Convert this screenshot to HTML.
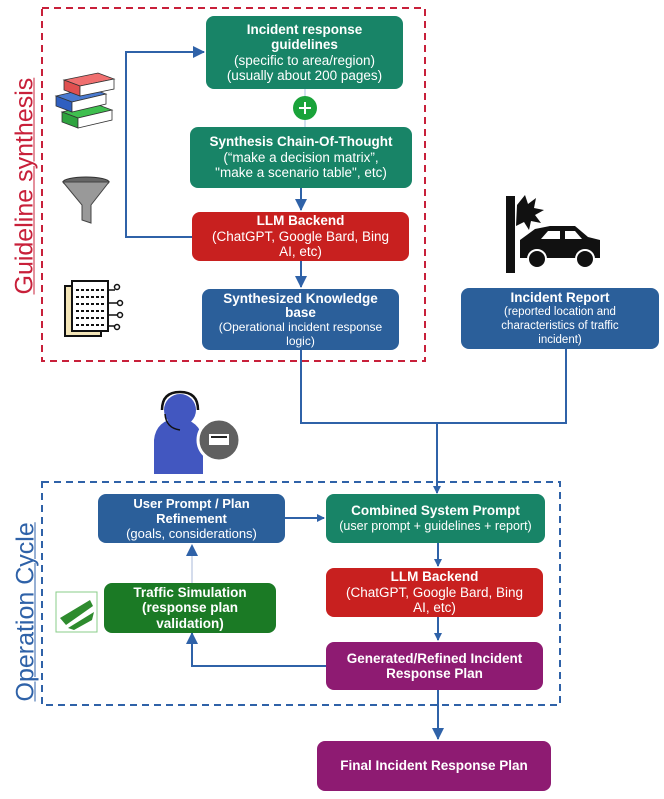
<!DOCTYPE html>
<html><head><meta charset="utf-8"><style>
body{margin:0;width:664px;height:799px;background:#fff;position:relative;overflow:hidden;font-family:"Liberation Sans",sans-serif}
.b{position:absolute;border-radius:8px;color:#fff;text-align:center;display:flex;flex-direction:column;justify-content:center;font-size:13.5px;line-height:15.5px;box-sizing:border-box;padding:0 12px}
.b b{font-size:13.5px}
.g{background:#188467}.r{background:#c8201f}.u{background:#2b5f9a}.p{background:#8e1b72}.d{background:#1b7a25}
.v{position:absolute;white-space:nowrap;transform:rotate(-90deg);transform-origin:center;text-decoration:underline;text-decoration-thickness:1px}
</style></head><body>
<svg width="664" height="799" style="position:absolute;left:0;top:0">
<defs><marker id="a" markerWidth="8" markerHeight="8" refX="7" refY="4" orient="auto" markerUnits="userSpaceOnUse"><path d="M0,0L8,4L0,8z" fill="#2f62a8"/></marker>
<marker id="a2" markerWidth="12" markerHeight="12" refX="11" refY="6" orient="auto" markerUnits="userSpaceOnUse"><path d="M0,0L12,6L0,12z" fill="#2f62a8"/></marker></defs>
<rect x="42" y="8" width="383" height="353" fill="none" stroke="#c8203a" stroke-width="2" stroke-dasharray="7,5"/>
<rect x="42" y="482" width="518" height="223" fill="none" stroke="#2f62a8" stroke-width="2" stroke-dasharray="7,5"/>
<g stroke="#2f62a8" stroke-width="2" fill="none">
<path d="M192,237H126V52H204" marker-end="url(#a2)"/>
<path d="M301,188V210" marker-end="url(#a2)"/>
<path d="M301,261V287" marker-end="url(#a2)"/>
<path d="M301,350V423H566V349"/>
<path d="M437,423V493" marker-end="url(#a)"/>
<path d="M285,518H324" marker-end="url(#a)"/>
<path d="M438,543V566" marker-end="url(#a)"/>
<path d="M438,617V640" marker-end="url(#a)"/>
<path d="M326,666H192V633" marker-end="url(#a2)"/>
<path d="M438,690V739" marker-end="url(#a2)"/>
</g>
<path d="M192,583V555" stroke="#a8b8d8" stroke-width="1" fill="none"/>
<path d="M186,556L192,544L198,556z" fill="#2f62a8"/>
<line x1="305" y1="89" x2="305" y2="127" stroke="#a8c0e0"/>
<circle cx="305" cy="108" r="12" fill="#1aa33a"/>
<path d="M299,108H311M305,102V114" stroke="#fff" stroke-width="2"/>
<g stroke="#333" stroke-width="0.8">
<path d="M62,112L96,104L112,110L78,118z" fill="#3fbf4f"/><path d="M62,112V122L78,128V118z" fill="#2fa33f"/><path d="M78,118L112,110V120L78,128z" fill="#fff"/>
<path d="M56,96L90,88L106,94L72,102z" fill="#4a7ad0"/><path d="M56,96V106L72,112V102z" fill="#2f5fc0"/><path d="M72,102L106,94V104L72,112z" fill="#fff"/>
<path d="M64,80L98,73L114,79L80,86z" fill="#f07070"/><path d="M64,80V90L80,96V86z" fill="#e05050"/><path d="M80,86L114,79V89L80,96z" fill="#fff"/>
</g>
<ellipse cx="86" cy="182" rx="23" ry="5" fill="#666" stroke="#333"/>
<path d="M63,182L82,205V220L91,223V205L109,182z" fill="#999" stroke="#444"/>
<rect x="65" y="286" width="36" height="50" fill="#f3e5b8" stroke="#111" stroke-width="2"/>
<rect x="72" y="281" width="36" height="50" fill="#fff" stroke="#111" stroke-width="2"/>
<g stroke="#111" stroke-width="2" stroke-dasharray="3,2"><path d="M76,290H104M76,297H104M76,304H104M76,311H104M76,318H104M76,325H104"/></g>
<g stroke="#111" stroke-width="1.5" fill="#fff"><path d="M108,290H115M108,303H118M108,315H118M108,326H115"/><circle cx="117" cy="287" r="2.5"/><circle cx="120" cy="303" r="2.5"/><circle cx="120" cy="315" r="2.5"/><circle cx="117" cy="327" r="2.5"/></g>
<rect x="506" y="196" width="9" height="77" fill="#111"/>
<path d="M517,205l8,-10 3,9 8,-6 -2,10 10,2 -9,5 6,8 -10,-2 -2,9 -5,-8 -8,4z" fill="#111"/>
<path d="M520,240L535,229L550,226L575,226L588,237L600,240V258H520z" fill="#111"/>
<path d="M548,231H560V239H541zM565,231H575L582,239H565z" fill="#fff"/>
<circle cx="537" cy="259" r="9" fill="#111" stroke="#fff" stroke-width="2"/><circle cx="585" cy="259" r="9" fill="#111" stroke="#fff" stroke-width="2"/>
<path d="M154,474V440Q156,420 178,418Q200,420 203,440V474z" fill="#4257c0"/>
<circle cx="180" cy="410" r="16" fill="#4257c0"/>
<path d="M162,410Q162,392 180,392Q198,392 198,410" stroke="#111" stroke-width="2.5" fill="none"/>
<path d="M165,414Q166,428 180,430" stroke="#111" stroke-width="1.5" fill="none"/>
<circle cx="219" cy="440" r="21" fill="#606060" stroke="#fff" stroke-width="3"/>
<rect x="209" y="434" width="20" height="11" fill="#fff"/><path d="M211,437H227" stroke="#222" stroke-width="2"/>
<rect x="56" y="592" width="41" height="40" fill="#fff" stroke="#8c8" stroke-width="1"/>
<path d="M60,618L90,600L93,606L66,625zM68,628L94,612L92,620L74,630z" fill="#2e8b2e"/>
</svg>
<div class="v" style="color:#c8203a;font-size:25px;left:-82px;top:173px;width:214px;text-align:center">Guideline synthesis</div>
<div class="v" style="color:#2f62a8;font-size:25px;left:-57px;top:604px;width:166px;text-align:center">Operation Cycle</div>
<div class="b g" style="left:206px;top:16px;width:197px;height:73px;padding:0 4px"><b style="display:block;padding:0 24px">Incident response guidelines</b>(specific to area/region)<br>(usually about 200 pages)</div>
<div class="b g" style="left:190px;top:127px;width:222px;height:61px;padding:0 8px"><b>Synthesis Chain-Of-Thought</b>(“make a decision matrix”,<br>"make a scenario table", etc)</div>
<div class="b r" style="left:192px;top:212px;width:217px;height:49px;padding:0 14px"><b>LLM Backend</b>(ChatGPT, Google Bard, Bing AI, etc)</div>
<div class="b u" style="left:202px;top:289px;width:197px;height:61px;font-size:12px;line-height:14px;padding:0 14px"><b>Synthesized Knowledge base</b>(Operational incident response logic)</div>
<div class="b u" style="left:461px;top:288px;width:198px;height:61px;font-size:11.5px;line-height:14px;padding:0 30px"><b>Incident Report</b>(reported location and characteristics of traffic incident)</div>
<div class="b u" style="left:98px;top:494px;width:187px;height:49px;font-size:13px;line-height:15px;padding:0 22px"><b style="font-size:13px">User Prompt / Plan Refinement</b>(goals, considerations)</div>
<div class="b g" style="left:326px;top:494px;width:219px;height:49px;font-size:12.5px;padding:0 4px"><b>Combined System Prompt</b>(user prompt + guidelines + report)</div>
<div class="b d" style="left:104px;top:583px;width:172px;height:50px;padding:0 22px"><b>Traffic Simulation (response plan validation)</b></div>
<div class="b r" style="left:326px;top:568px;width:217px;height:49px;padding:0 14px"><b>LLM Backend</b>(ChatGPT, Google Bard, Bing AI, etc)</div>
<div class="b p" style="left:326px;top:642px;width:217px;height:48px"><b>Generated/Refined Incident Response Plan</b></div>
<div class="b p" style="left:317px;top:741px;width:234px;height:50px"><b>Final Incident Response Plan</b></div>
</body></html>
